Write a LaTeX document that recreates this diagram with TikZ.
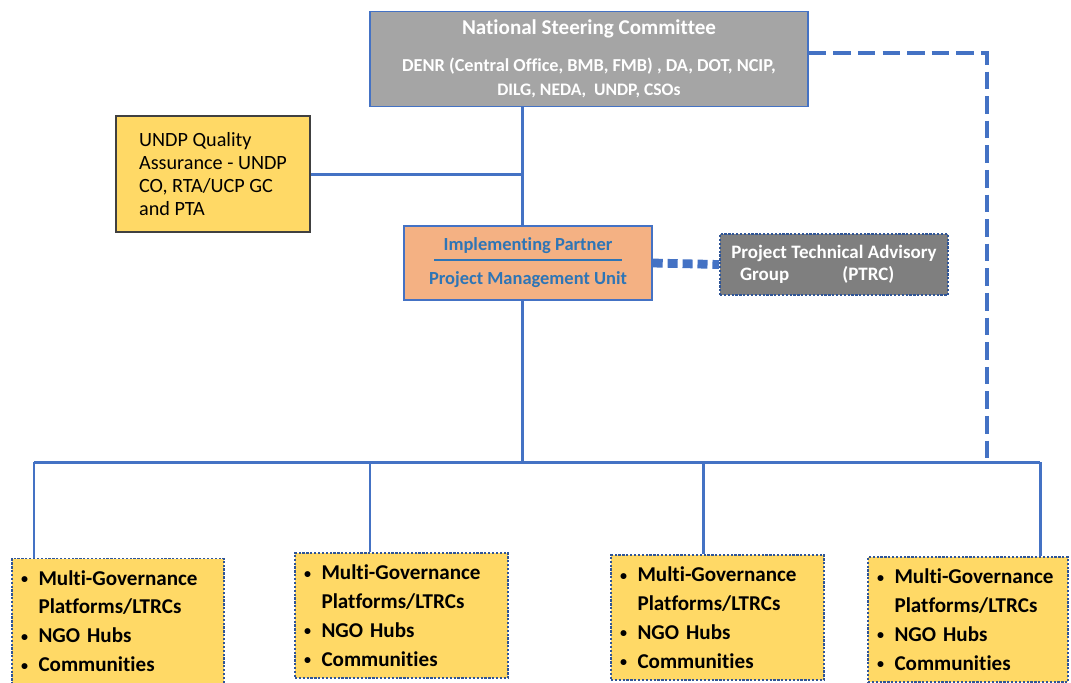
\documentclass[tikz,border=0pt]{standalone}
\usepackage{fontspec}
\setmainfont{Carlito}[Ligatures=NoCommon]
\usetikzlibrary{positioning}
\definecolor{linkblue}{HTML}{4472C4}
\definecolor{dotblue}{HTML}{2F5597}
\definecolor{pmutext}{HTML}{2E75B6}
\definecolor{nscgray}{HTML}{A5A5A5}
\definecolor{ptrcgray}{HTML}{7F7F7F}
\definecolor{hubyellow}{HTML}{FFD966}
\definecolor{pmuorange}{HTML}{F4B183}
\tikzset{
  steerbox/.style={draw=linkblue, line width=0.8pt, fill=nscgray, text=white,
    font=\bfseries, align=center, minimum width=8.76cm, minimum height=1.9cm},
  qabox/.style={draw=black!75, line width=0.8pt, fill=hubyellow, align=left,
    font=\fontsize{11.5}{13.2}\selectfont, minimum width=3.88cm, minimum height=2.32cm}
}
\tikzset{
  pmubox/.style={draw=linkblue, line width=0.8pt, fill=pmuorange, text=pmutext,
    font=\bfseries\fontsize{10.5}{19.3}\selectfont, align=center,
    minimum width=4.96cm, minimum height=1.48cm},
  ptrcbox/.style={draw=dotblue, line width=1.1pt, dash pattern=on 1.3pt off 0.9pt,
    fill=ptrcgray, text=white, font=\bfseries\fontsize{10.8}{12.8}\selectfont,
    align=left, minimum width=4.56cm, minimum height=1.22cm},
  hubbox/.style={draw=dotblue, line width=1.1pt, dash pattern=on 1.3pt off 0.9pt,
    fill=hubyellow, font=\bfseries\fontsize{12}{16.4}\selectfont, align=left,
    text width=#1, inner xsep=0.18cm, minimum height=2.5cm}
}
\tikzset{
  linkline/.style={draw=linkblue, line width=1.7pt},
  advline/.style={draw=linkblue, line width=5pt, dash pattern=on 5.7pt off 2.8pt},
  oversight/.style={draw=linkblue, line width=2.8pt, dash pattern=on 10pt off 4pt}
}
\newcommand{\dotmark}{\raisebox{0.15ex}{\fontsize{8}{8}\selectfont\textbullet}\hspace{0.5em}}
\newcommand{\hubitems}{\dotmark Multi-Governance\\
  \phantom{\dotmark}Platforms/LTRCs\\
  \dotmark NGO Hubs\\
  \dotmark Communities}

\begin{document}
\begin{tikzpicture}
  \useasboundingbox (0,0) rectangle (21.42,-13.64);
  % committee on top, quality assurance hangs off the spine
  \node[steerbox] (nsc) at (11.78,-1.18)
    {\fontsize{12}{14}\selectfont National Steering Committee\\[9pt]
     \fontsize{10.4}{13.6}\selectfont DENR (Central Office, BMB, FMB) , DA, DOT, NCIP,\\[2pt]
     DILG, NEDA,\ \ UNDP, CSOs};
  \node[qabox] (qa) at (4.26,-3.48)
    {UNDP Quality\\Assurance - UNDP\\CO, RTA/UCP GC\\and PTA};
  \node[pmubox] (pmu) at (10.56,-5.26)
    {Implementing Partner\\Project Management Unit};
  \draw[pmutext, line width=0.8pt] ([xshift=-1.88cm, yshift=0.06cm]pmu.center)
    -- ([xshift=1.88cm, yshift=0.06cm]pmu.center);
  \node[ptrcbox] (ptrc) at (16.68,-5.29)
    {Project Technical Advisory\\\hspace{5pt}Group\hspace{2.8em}(PTRC)};
  % the four field boxes along the bottom
  \node[hubbox=3.88cm] (hub1) at (2.36,-12.42) {\hubitems};
  \node[hubbox=3.9cm] (hub2) at (8.03,-12.31) {\hubitems};
  \node[hubbox=3.9cm] (hub3) at (14.35,-12.35) {\hubitems};
  \node[hubbox=3.64cm] (hub4) at (19.36,-12.39) {\hubitems};
  \coordinate (spinetop) at ([xshift=-0.12cm]pmu.north);
  \coordinate (spinelow) at ([xshift=-0.12cm]pmu.south);
  \coordinate (bus) at (0,-9.24);
  \coordinate (d1) at (0.68,-9.24);
  \coordinate (d2) at (7.40,-9.24);
  \coordinate (d3) at (14.06,-9.24);
  \coordinate (d4) at (20.80,-9.24);
  \coordinate (d5) at (19.74,-9.24);
  \draw[linkline] (nsc.south -| spinetop) -- (spinetop);
  \draw[linkline] (qa.east) -- (qa.east -| spinetop);
  \draw[linkline] (spinelow) -- (bus -| spinelow);
  \draw[linkline] (d1) -- (d4);
  \foreach \i in {1,...,4}
    \draw[linkline] (d\i) -- (d\i |- hub\i.north);
  \draw[advline] (pmu.east) -- (ptrc.west);
  \draw[oversight] ([yshift=0.12cm]nsc.east) -| (d5);
\end{tikzpicture}
\end{document}
